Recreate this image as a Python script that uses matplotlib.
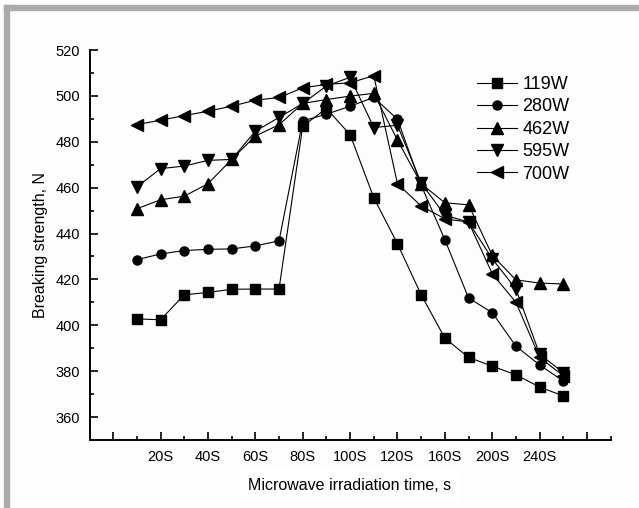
import matplotlib
matplotlib.use('Agg')
import matplotlib.pyplot as plt
from matplotlib.patches import Rectangle
from matplotlib.ticker import MultipleLocator

plt.rcParams['font.family'] = ['Liberation Sans', 'DejaVu Sans']

# data (19 time steps)
steps = list(range(1, 20))
tick_pos = [0, 2, 4, 6, 8, 10, 12, 14, 16, 18, 20]
tick_lab = ['', '20S', '40S', '60S', '80S', '100S', '120S', '160S', '200S', '240S', '']

w119 = [402.8, 402.4, 413.3, 414.3, 415.7, 415.8, 415.8, 486.8, 494.5, 483.1,
        455.6, 435.5, 413.3, 394.4, 386.0, 382.2, 378.4, 373.1, 369.2]
w280 = [428.6, 431.1, 432.6, 433.1, 433.3, 434.6, 436.8, 489.1, 492.0, 495.5,
        499.3, 489.8, 461.0, 437.3, 411.9, 405.5, 390.9, 382.7, 375.7]
w462 = [450.8, 454.7, 456.3, 461.7, 472.3, 482.5, 487.4, 496.7, 498.4, 499.9,
        501.1, 480.7, 461.7, 453.4, 452.5, 430.5, 419.8, 418.4, 418.0]
w595 = [460.3, 468.3, 469.4, 471.9, 472.3, 484.6, 490.6, 496.7, 504.3, 508.1,
        486.2, 487.2, 462.0, 448.0, 445.0, 429.0, 415.8, 387.4, 379.4]
w700 = [487.5, 489.4, 491.4, 493.3, 495.5, 498.1, 499.3, 503.5, 505.0, 505.7,
        508.8, 461.7, 452.0, 446.4, 445.0, 422.5, 410.0, 386.0, 378.0]

series = [('119W', w119, 's'), ('280W', w280, 'o'), ('462W', w462, '^'),
          ('595W', w595, 'v'), ('700W', w700, '<')]

W, H = 639, 508
fig = plt.figure(figsize=(W / 100, H / 100), dpi=100, facecolor='#fdfdfd')

# grey frame on top and left
fig.patches.append(Rectangle((4 / W, 0), 5 / W, 1 - 5 / H, transform=fig.transFigure,
                             color='#aaaaaa', zorder=0))
fig.patches.append(Rectangle((4 / W, 1 - 10 / H), 1 - 4 / W, 5 / H, transform=fig.transFigure,
                             color='#aaaaaa', zorder=0))

ax = fig.add_axes([89.5 / W, 1 - 440 / H, (610.7 - 89.5) / W, (440 - 50) / H])
ax.set_facecolor('#fdfdfd')

for name, vals, mk in series:
    ms = 6.5 if mk in ('s', 'o') else 8
    ax.plot(steps, vals, color='black', lw=0.8, marker=mk, markersize=ms, label=name)

ax.set_xlim(-1, 21)
ax.set_ylim(350, 520)
ax.set_xticks(tick_pos)
ax.set_xticklabels(tick_lab)
ax.xaxis.set_minor_locator(MultipleLocator(1))
ax.yaxis.set_minor_locator(MultipleLocator(10))
ax.set_yticks(range(360, 521, 20))
ax.tick_params(which='major', direction='in', length=6, width=1.2, labelsize=10.5, pad=7)
ax.tick_params(which='minor', direction='in', length=3, width=1.2)
for s in ('top', 'right'):
    ax.spines[s].set_visible(False)
for s in ('left', 'bottom'):
    ax.spines[s].set_linewidth(1.4)

ax.set_ylabel('Breaking strength, N', fontsize=11.5, labelpad=5)
fig.text(350 / W, 1 - 485 / H, 'Microwave irradiation time, s', fontsize=11.5,
         ha='center', va='center', bbox=dict(facecolor='white', edgecolor='none', pad=6))

ax.legend(loc='upper left', bbox_to_anchor=(477 / W, 1 - 76 / H),
          bbox_transform=fig.transFigure, frameon=False, fontsize=13,
          handlelength=2.2, handletextpad=0.3, labelspacing=0.3, borderpad=0,
          borderaxespad=0)

fig.savefig('out.png', dpi=100, facecolor=fig.get_facecolor())
